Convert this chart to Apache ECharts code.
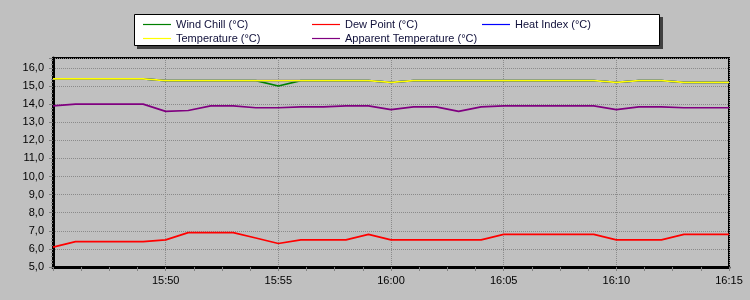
<!DOCTYPE html>
<html>
<head>
<meta charset="utf-8">
<script src="https://cdn.jsdelivr.net/npm/echarts@6/dist/echarts.min.js"></script>
<style>
html,body{margin:0;padding:0;background:#c0c0c0;}
#chart{width:750px;height:300px;}
</style>
</head>
<body>
<div id="chart"></div>
<script>
var times = ['15:45','15:46','15:47','15:48','15:49','15:50','15:51','15:52','15:53','15:54','15:55','15:56','15:57','15:58','15:59','16:00','16:01','16:02','16:03','16:04','16:05','16:06','16:07','16:08','16:09','16:10','16:11','16:12','16:13','16:14','16:15'];
var windChill = [15.4,15.4,15.4,15.4,15.4,15.3,15.3,15.3,15.3,15.3,15.0,15.3,15.3,15.3,15.3,15.2,15.3,15.3,15.3,15.3,15.3,15.3,15.3,15.3,15.3,15.2,15.3,15.3,15.2,15.2,15.2];
var dewPoint = [6.1,6.4,6.4,6.4,6.4,6.5,6.9,6.9,6.9,6.6,6.3,6.5,6.5,6.5,6.8,6.5,6.5,6.5,6.5,6.5,6.8,6.8,6.8,6.8,6.8,6.5,6.5,6.5,6.8,6.8,6.8];
var heatIndex = [15.4,15.4,15.4,15.4,15.4,15.3,15.3,15.3,15.3,15.3,15.3,15.3,15.3,15.3,15.3,15.2,15.3,15.3,15.3,15.3,15.3,15.3,15.3,15.3,15.3,15.2,15.3,15.3,15.2,15.2,15.2];
var temperature = [15.4,15.4,15.4,15.4,15.4,15.3,15.3,15.3,15.3,15.3,15.3,15.3,15.3,15.3,15.3,15.2,15.3,15.3,15.3,15.3,15.3,15.3,15.3,15.3,15.3,15.2,15.3,15.3,15.2,15.2,15.2];
var apparentTemp = [13.9,14.0,14.0,14.0,14.0,13.6,13.65,13.9,13.9,13.8,13.8,13.85,13.85,13.9,13.9,13.7,13.85,13.85,13.6,13.85,13.9,13.9,13.9,13.9,13.9,13.7,13.85,13.85,13.8,13.8,13.8];
var xTickLabels = ['15:50','15:55','16:00','16:05','16:10','16:15'];
var yTickLabels = ['5,0','6,0','7,0','8,0','9,0','10,0','11,0','12,0','13,0','14,0','15,0','16,0'];

function toMin(t){var p=t.split(':');return (+p[0])*60+(+p[1]);}
function fmtMin(v){var h=Math.floor(v/60),m=Math.round(v%60);return h+':'+(m<10?'0':'')+m;}
function pairs(arr){return arr.map(function(v,i){return [toMin(times[i]),v];});}

var names = ['Wind Chill (°C)','Dew Point (°C)','Heat Index (°C)','Temperature (°C)','Apparent Temperature (°C)'];
var colors = ['#008000','#ff0000','#0000ff','#ffff00','#800080'];
var dataSets = [windChill,dewPoint,heatIndex,temperature,apparentTemp];

var chart = echarts.init(document.getElementById('chart'));
var legendText = {fontFamily:'Liberation Sans',fontSize:11,color:'#10103a',lineHeight:14};
function mkLegend(left,idx){
  return {left:left,top:17.5,orient:'vertical',itemWidth:28,itemHeight:1.2,itemGap:0,
    padding:0,textStyle:legendText,selectedMode:false,icon:'rect',
    data:idx.map(function(i){return {name:names[i],icon:'rect',itemStyle:{color:colors[i],borderWidth:0}};})};
}
chart.setOption({
  backgroundColor:'#c0c0c0',
  animation:false,
  graphic:[
    {type:'rect',shape:{x:137,y:17,width:526,height:32},style:{fill:'#404040'},z:-1},
    {type:'rect',shape:{x:134.5,y:14.5,width:525,height:31},style:{fill:'#ffffff',stroke:'#000',lineWidth:1},z:0}
  ],
  legend:[
    mkLegend(143,[0,3]),
    mkLegend(312,[1,4]),
    mkLegend(482,[2])
  ],
  grid:{left:53,right:21,top:58,bottom:33,show:true,borderColor:'#000',borderWidth:2,backgroundColor:'transparent'},
  xAxis:{
    type:'value',min:toMin(times[0]),max:toMin(times[times.length-1]),interval:5,
    axisLine:{show:true,lineStyle:{color:'#000',width:3}},
    axisTick:{show:true,length:4,lineStyle:{color:'#808080'}},
    minorTick:{show:true,splitNumber:4,length:4,lineStyle:{color:'#808080'}},
    splitLine:{show:true,lineStyle:{color:'#8a8a8a',type:'dotted',width:1}},
    axisLabel:{showMinLabel:false,margin:8,fontFamily:'Liberation Sans',fontSize:11,color:'#000',
      formatter:function(v){var s=fmtMin(v);return xTickLabels.indexOf(s)>=0?s:'';}}
  },
  yAxis:{
    type:'value',min:5,max:16.55,interval:1,
    axisLine:{show:true,lineStyle:{color:'#000',width:3}},
    axisTick:{show:true,length:4,lineStyle:{color:'#808080'}},
    minorTick:{show:true,splitNumber:5,length:2,lineStyle:{color:'#808080'}},
    splitLine:{show:true,lineStyle:{color:'#8a8a8a',type:'dotted',width:1}},
    axisLabel:{showMaxLabel:false,margin:9,fontFamily:'Liberation Sans',fontSize:11,color:'#000',
      formatter:function(v){var i=Math.round(v)-5;return (Math.abs(v-Math.round(v))<1e-6 && yTickLabels[i])?yTickLabels[i]:'';}}
  },
  series:dataSets.map(function(d,i){
    return {name:names[i],type:'line',data:pairs(d),symbol:'none',
      lineStyle:{color:colors[i],width:1.7},itemStyle:{color:colors[i]},z:2+i};
  })
});
</script>
</body>
</html>
